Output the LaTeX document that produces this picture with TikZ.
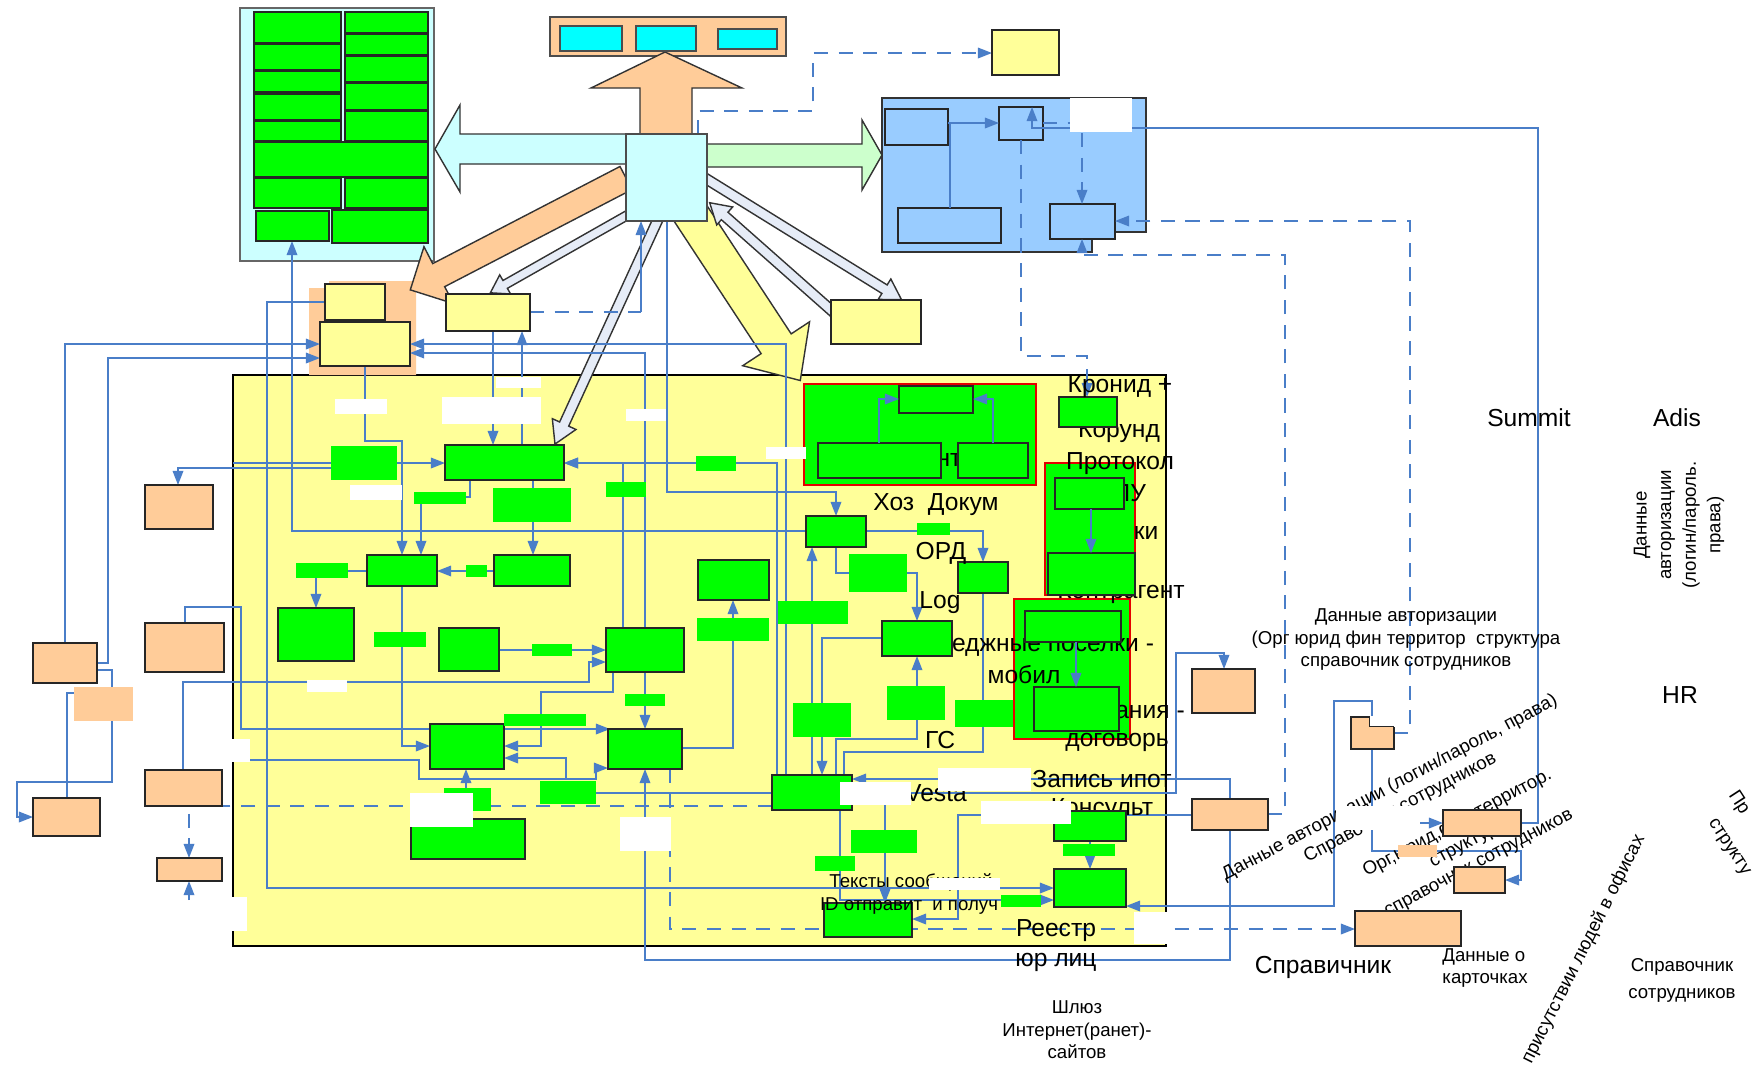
\documentclass[tikz,border=0pt]{standalone}
\usepackage{fontspec}
\setmainfont{Liberation Sans}
\usetikzlibrary{arrows.meta,fit}
\pgfdeclarelayer{bg}
\pgfdeclarelayer{ln}
\pgfsetlayers{bg,ln,main}
\definecolor{grn}{HTML}{00FF00}
\definecolor{pch}{HTML}{FFCC99}
\definecolor{ylw}{HTML}{FFFF99}
\definecolor{lcy}{HTML}{CCFFFF}
\definecolor{cyn}{HTML}{00FFFF}
\definecolor{lgr}{HTML}{CCFFCC}
\definecolor{sky}{HTML}{99CCFF}
\definecolor{lnk}{HTML}{4A7EC8}
\definecolor{pale}{HTML}{E6ECF7}
\tikzset{
  box/.style={inner sep=0pt, outer sep=0pt, line width=0.45pt},
  gbox/.style={box, fill=grn, draw=black!85},
  glab/.style={box, fill=grn},
  pbox/.style={box, fill=pch, draw=black!85},
  ybox/.style={box, fill=ylw, draw=black!85},
  cbox/.style={box, fill=cyn, draw=black!70},
  sbox/.style={box, fill=sky, draw=black!85},
  rbox/.style={box, fill=grn, draw=red!90!black},
  wbox/.style={box, fill=white},
  conn/.style={draw=lnk, line width=0.45pt},
  arr/.style={conn, -{Triangle[length=4pt,width=3pt]}},
  dsh/.style={dash pattern=on 4pt off 3pt},
  fat/.style={draw=black!80, line width=0.4pt},
  big/.style={font=\fontsize{7}{8.4}\selectfont, inner sep=0pt},
  sml/.style={font=\fontsize{5.3}{6.4}\selectfont, inner sep=0pt, align=center},
}
\begin{document}
\begin{tikzpicture}[x=0.01cm,y=-0.01cm]
\useasboundingbox (0,0) rectangle (1754,1069);
\begin{pgfonlayer}{bg}
\fill[white] (0,0) rectangle (1754,1069);
\node[box, fill=ylw, draw=black, line width=0.8pt, fit={(233,375) (1166,946)}] (yr) {};
\fill[pch] (309,288) -- (329,288) -- (329,281) -- (416,281) -- (416,375) -- (309,375) -- cycle;
\node[box, fill=lcy, draw=black!60, fit={(240,8) (434,261)}] (a) {};
\node[box, fill=pch, draw=black!70, fit={(550,17) (786,56)}] (ptop) {};
\filldraw[fill=sky, draw=black!80, line width=0.45pt] (882,98) -- (1146,98) -- (1146,232) -- (1092,232) -- (1092,252) -- (882,252) -- cycle;
\node[sbox, fit={(885,109) (948,145)}] (b1) {};
\node[sbox, fit={(999,107) (1043,140)}] (b2) {};
\node[sbox, fit={(898,208) (1001,243)}] (b3) {};
\node[sbox, fit={(1050,204) (1115,239)}] (b4) {};
\draw[fat, fill=pch] (640,134) -- (640,88) -- (591,88) -- (665,52) -- (742,88) -- (692,88) -- (692,134) -- cycle;
\draw[fat, fill=lcy] (626,134) -- (460,134) -- (460,105) -- (435,149) -- (460,192) -- (460,164) -- (626,164) -- cycle;
\draw[fat, fill=lgr] (707,144) -- (862,144) -- (862,120) -- (882,155) -- (862,190) -- (862,167) -- (707,167) -- cycle;
\begin{scope}[shift={(626,178)}, rotate=-152.59]
\draw[fat, fill=pch] (0,-13) -- (211,-13) -- (211,-32) -- (243,0) -- (211,32) -- (211,13) -- (0,13) -- cycle;
\end{scope}
\begin{scope}[shift={(685,205)}, rotate=-56.7]
\draw[fat, fill=ylw] (0,-18) -- (166,-18) -- (166,-40) -- (210,0) -- (166,40) -- (166,18) -- (0,18) -- cycle;
\end{scope}
\begin{scope}[shift={(640,208)}, rotate=-150.46]
\draw[fat, fill=pale] (0,-4.5) -- (155,-4.5) -- (155,-11) -- (172,0) -- (155,11) -- (155,4.5) -- (0,4.5) -- cycle;
\end{scope}
\begin{scope}[shift={(660,215)}, rotate=-114.63]
\draw[fat, fill=pale] (0,-5) -- (230,-5) -- (230,-13) -- (252,0) -- (230,13) -- (230,5) -- (0,5) -- cycle;
\end{scope}
\begin{scope}[shift={(700,175)}, rotate=-31.75]
\draw[fat, fill=pale] (0,-5) -- (217,-5) -- (217,-12) -- (237,0) -- (217,12) -- (217,5) -- (0,5) -- cycle;
\end{scope}
\begin{scope}[shift={(840,318)}, rotate=138.5]
\draw[fat, fill=pale] (0,-5) -- (154,-5) -- (154,-12) -- (174,0) -- (154,12) -- (154,5) -- (0,5) -- cycle;
\end{scope}
\end{pgfonlayer}

\node[rbox, fit={(804,384) (1036,485)}] (r1) {};
\node[rbox, fit={(1045,463) (1135,595)}] (r2) {};
\node[rbox, fit={(1014,599) (1130,739)}] (r3) {};

\node[big] (t14) at (1119,432) {Корунд};
\node[big] (t15) at (1121,593) {Контрагент};
\node[big] (t16) at (1053,647) {еджные поселки -};
\node[big] (t17) at (1150,712) {ания -};
\node[big] (t18) at (1102,810) {Консульт};
\node[big] (t19) at (936,793) {Vesta};
\node[big] (t34) at (949,460) {нт};
\node[big] (t35) at (1130,493) {ЛУ};
\node[sml] (t36) at (911,882) {Тексты сообщений};
\node[sml, rotate=28] (t20) at (1395,798) {Данные авторизации (логин/пароль, права)\\Справочник сотрудников};
\node[sml, rotate=28] (t21) at (1468,843) {Орг,юрид,фин,территор.\\структура\\справочник сотрудников};
\node[sml, rotate=63.4, anchor=base east] (t22) at (1645,838) {присутствии людей в офисах};
\node[sml, rotate=-57, anchor=base west] (t23) at (1728,795) {Пр};
\node[sml, rotate=-57, anchor=base west] (t24) at (1708,822) {структу};

\foreach \x/\y/\u/\v [count=\i] in {254/12/341/43, 254/44/341/70, 254/71/341/92, 254/94/341/120, 254/121/341/141,
  345/12/428/33, 345/34/428/55, 345/56/428/82, 345/83/428/110, 345/111/428/141,
  254/142/428/177, 254/178/341/208, 345/178/428/208, 256/211/329/241, 332/210/428/243}
  \node[gbox, fit={(\x,\y) (\u,\v)}] (a\i) {};
\foreach \x/\y/\u/\v [count=\i] in {560/26/622/51, 636/26/696/51, 718/29/777/49}
  \node[cbox, fit={(\x,\y) (\u,\v)}] (q\i) {};
\node[ybox, fit={(992,30) (1059,75)}] (y1) {};
\node[ybox, fit={(325,284) (385,320)}] (ya) {};
\node[ybox, fit={(320,322) (410,366)}] (yb) {};
\node[ybox, fit={(446,294) (530,331)}] (yc) {};
\node[ybox, fit={(831,300) (921,344)}] (yd) {};
\node[box, fill=lcy, draw=black!70, fit={(626,134) (707,221)}] (c) {};
\foreach \nm/\x/\y/\u/\v in {g1/445/445/564/480, g2/367/555/437/586, g3/494/555/570/586, g4/278/608/354/661,
  g5/439/628/499/671, g6/606/628/684/672, g7/698/560/769/600, g8/430/724/504/769, g9/608/729/682/769,
  g10/411/819/525/859, g11/772/775/852/810, g12/1054/811/1126/841, g13/1054/869/1126/907,
  g14/824/903/912/937, g15/806/516/866/547, g16/958/562/1008/593, g17/882/621/952/656,
  k/1059/397/1117/427, r1a/899/386/973/413, r1b/818/443/941/478, r1c/958/443/1028/478,
  r2a/1055/478/1124/509, r2b/1048/553/1135/595, r3a/1025/611/1121/642, r3b/1034/687/1119/731}
  \node[gbox, fit={(\x,\y) (\u,\v)}] (\nm) {};
\foreach \x/\y/\u/\v [count=\i] in {331/446/397/480, 414/492/466/504, 493/488/571/522, 606/482/646/497,
  696/456/736/471, 466/565/487/577, 296/563/348/578, 374/632/426/647, 532/644/572/656, 697/618/769/641,
  778/601/848/624, 625/694/665/706, 504/714/586/726, 540/781/596/804, 444/788/491/811, 917/523/950/535,
  849/554/907/592, 793/703/851/737, 887/686/945/720, 955/700/1013/727, 851/830/917/853, 815/856/855/871,
  1063/844/1115/856, 1001/895/1041/907}
  \node[glab, fit={(\x,\y) (\u,\v)}] (gl\i) {};
\foreach \nm/\x/\y/\u/\v in {p0/145/485/213/529, p1/33/643/97/683, p2/145/623/224/672, p3/33/798/100/836,
  p4/145/770/222/806, p5/157/858/222/881, p6/1192/669/1255/713, p7/1192/799/1268/830,
  p8/1351/717/1394/749, p9/1443/810/1521/836, p10/1454/867/1505/893, p11/1355/911/1461/946}
  \node[pbox, fit={(\x,\y) (\u,\v)}] (\nm) {};
\node[box, fill=pch, fit={(74,687) (133,721)}] (lp1) {};
\node[box, fill=pch, fit={(1398,845) (1437,857)}] (lp2) {};
\fill[white] (1369.5,715.5) rectangle (1396,726.5);
\draw[black!85, line width=0.45pt] (1369.5,716) |- (1394,726.5);

\draw[arr] (r1b.north -| 879,0) |- (r1a.west |- 0,399);
\draw[arr] (r1c.north -| 993,0) |- (r1a.east |- 0,399);
\draw[arr] (r2a.south -| 1091,0) -- (r2b.north -| 1091,0);
\draw[arr] (r3a.south -| 1076,0) -- (r3b.north -| 1076,0);

\node[big] (t1) at (1120,387) {Кронид +};
\node[big] (t2) at (1120,464) {Протокол};
\node[big] (t3) at (1146,533) {ки};
\node[big] (t4) at (1024,675) {мобил};
\node[big] (t5) at (1117,742) {договорь};
\node[big] (t6) at (1102,779) {Запись ипот};
\node[big] (t7) at (936,505) {Хоз\ \ Докум};
\node[big] (t8) at (941,553) {ОРД};
\node[big] (t9) at (940,603) {Log};
\node[big] (t10) at (940,740) {ГС};
\node[sml] (t11) at (909,906) {ID отправит\ \ и получ};
\node[big] (t12) at (1056,931) {Реестр};
\node[big] (t13) at (1056,962) {юр лиц};
\node[big] (t25) at (1529,418) {Summit};
\node[big] (t26) at (1677,418) {Adis};
\node[sml, rotate=90, font=\fontsize{5.3}{7}\selectfont] (t27) at (1679,525) {Данные\\авторизации\\(логин/пароль.\\права)};
\node[sml] (t28) at (1406,640) {Данные авторизации\\(Орг юрид фин территор\ \ структура\\справочник сотрудников};
\node[big] (t29) at (1680,695) {HR};
\node[big] (t30) at (1323,967) {Справичник};
\node[sml, align=left] (t31) at (1485,968) {Данные о\\карточках};
\node[sml, font=\fontsize{5.3}{7.7}\selectfont] (t32) at (1682,980) {Справочник\\сотрудников};
\node[sml] (t33) at (1077,1030) {Шлюз\\Интернет(ранет)-\\сайтов};

\foreach \x/\y/\u/\v [count=\i] in {496/377/541/388, 335/399/387/414, 442/397/541/424, 626/409/666/421,
  766/447/806/459, 350/485/402/500, 307/680/347/692, 185/739/250/762, 410/793/473/827, 620/817/671/851,
  202/897/247/931, 840/782/911/805, 938/768/1031/791, 981/801/1071/824, 929/878/1000/890,
  1134/912/1168/944, 1070/98/1132/132, 1336/806/1420/830}
  \node[wbox, fit={(\x,\y) (\u,\v)}] (w\i) {};

\coordinate (j1) at (250,760);
\coordinate (j2) at (566,779);
\coordinate (j3) at (641,312);
\coordinate (j4) at (1372,823);
\coordinate (j5) at (885,800);
\coordinate (j6) at (189,900);

\begin{pgfonlayer}{ln}
\draw[arr] (p1.north -| 65,0) |- (yb.west |- 0,344);
\draw[arr] (p1.east |- 0,663) -| (108,358) -- (yb.west |- 0,358);
\draw[arr] (p1.east |- 0,670) -| (112,782) -| (17,817) -- (p3.west |- 0,817);
\draw[conn] (p3.north -| 67,0) |- (lp1.west |- 0,693);
\draw[arr] (gl1.west |- 0,468) -| (p0.north -| 178,0);
\draw[arr] (yr.west |- 0,463) -- (g1.west |- 0,463);
\draw[arr] (ya.west |- 0,302) -| (267,888) -- (g13.west |- 0,888);
\draw[arr] (g15.west |- 0,531) -| (a14.south -| 292,0);
\draw[arr] (yb.south -| 365,0) |- (402,441) -- (g2.north -| 402,0);
\draw[arr] (yc.south -| 493,0) -- (g1.north -| 493,0);
\draw[arr] (g1.north -| 522,0) -- (yc.south -| 522,0);
\draw[conn, dsh] (yc.east |- 0,312) -- (j3);
\draw[arr] (j3) -- (c.south -| 641,0);
\draw[arr] (c.south -| 667,0) |- (836,492) -- (g15.north -| 836,0);
\draw[arr, dsh] (c.north -| 698,0) |- (813,111) |- (y1.west |- 0,53);
\draw[arr] (g6.north -| 645,0) |- (yb.east |- 0,353);
\draw[arr] (g11.north -| 786,0) |- (yb.east |- 0,344);
\draw[arr] (g6.north -| 623,0) |- (g1.east |- 0,463);
\draw[arr] (g11.north -| 777,0) |- (g1.east |- 0,463);
\draw[arr] (g1.south -| 470,0) |- (421,497) -- (g2.north -| 421,0);
\draw[arr] (g1.south -| 533,0) -- (g3.north -| 533,0);
\draw[arr] (g2.west |- 0,571) -| (g4.north -| 316,0);
\draw[arr] (g3.west |- 0,571) -- (g2.east |- 0,571);
\draw[arr] (g2.south -| 402,0) |- (g8.west |- 0,746);
\draw[arr] (g5.east |- 0,650) -- (g6.west |- 0,650);
\draw[arr] (p4.north -| 183,0) |- (589,682) |- (g6.west |- 0,662);
\draw[arr] (p2.north -| 185,0) |- (241,607) |- (g9.north -| 610,0);
\draw[arr] (g6.south -| 613,0) |- (541,692) |- (g8.east |- 0,746);
\draw[arr] (j1) -| (419,779) -| (596,768) -- (g9.west |- 0,768);
\draw[arr] (j2) |- (g8.east |- 0,758);
\draw[arr] (g6.south -| 645,0) -- (g9.north -| 645,0);
\draw[arr] (g9.east |- 0,748) -| (g7.south -| 733,0);
\draw[arr] (g10.north -| 466,0) -- (g8.south -| 466,0);
\draw[conn] (gl14.east |- 0,793) -- (g11.west |- 0,793);
\draw[arr] (p7.south -| 1230,0) |- (645,960) -- (g9.south -| 645,0);
\draw[arr] (p7.north -| 1230,0) |- (g11.east |- 0,779);
\draw[arr] (g11.east |- 0,793) -| (1176,653) -| (p6.north -| 1224,0);
\draw[arr] (p7.west |- 0,815) -| (958,919) -- (g14.east |- 0,919);
\draw[arr] (g12.south -| 1090,0) -- (g13.north -| 1090,0);
\draw[arr] (p8.north -| 1372,0) |- (1334,701) |- (g13.east |- 0,906);
\draw[arr] (p8.south -| 1372,0) |- (1521,851) |- (p10.east |- 0,880);
\draw[arr] (j4) -- (p9.west |- 0,823);
\draw[arr] (p9.east |- 0,823) -| (1538,128) -| (b2.north -| 1032,0);
\draw[arr, dsh] (p8.east |- 0,733) -| (1410,221) -- (b4.east |- 0,221);
\draw[arr, dsh] (p7.east |- 0,814) -| (1285,255) -| (b4.south -| 1082,0);
\draw[arr, dsh] (b2.south -| 1021,0) |- (1087,356) -- (k.north -| 1087,0);
\draw[arr, dsh] (b2.east |- 0,123) -| (b4.north -| 1082,0);
\draw[arr] (b1.east |- 0,123) -- (b2.west |- 0,123);
\draw[conn] (b1.east |- 0,123) -| (b3.north -| 950,0);
\draw[arr, dsh] (g9.south -| 670,0) |- (p11.west |- 0,929);
\draw[arr, dsh] (g11.west |- 0,806) -| (p5.north -| 189,0);
\draw[arr, dsh] (j6) -- (p5.south -| 189,0);
\draw[arr] (g15.east |- 0,531) -| (g16.north -| 983,0);
\draw[arr] (g15.south -| 836,0) |- (917,573) -- (g17.north -| 917,0);
\draw[arr] (g11.north -| 812,0) -- (g15.south -| 812,0);
\draw[arr] (g17.west |- 0,638) -| (g11.north -| 822,0);
\draw[arr] (g11.north -| 836,0) |- (917,739) -- (g17.south -| 917,0);
\draw[conn] (g16.south -| 983,0) |- (844,752) -- (g11.north -| 844,0);
\draw[arr] (g11.south -| 840,0) |- (g13.west |- 0,900);
\draw[arr] (j5) -- (g14.north -| 885,0);
\end{pgfonlayer}
\end{tikzpicture}
\end{document}
